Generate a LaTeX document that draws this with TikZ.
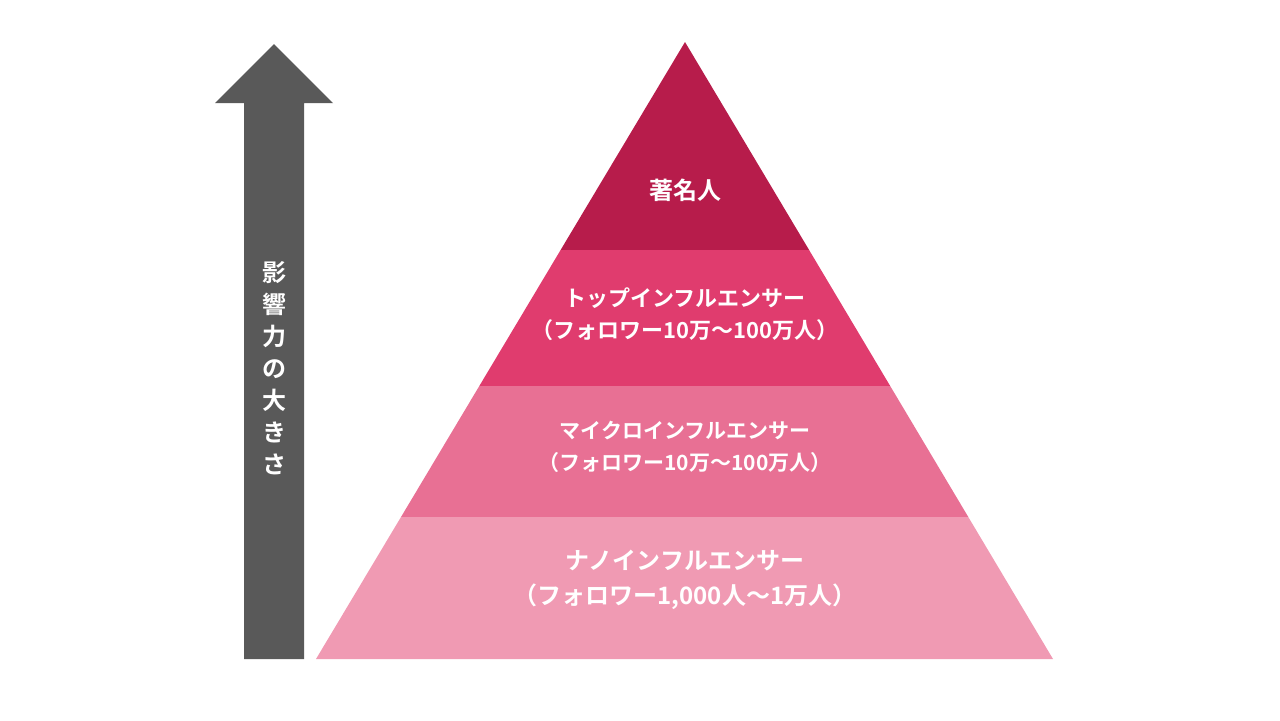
\documentclass[tikz,border=0pt]{standalone}
\usepackage{fontspec}
\newfontfamily\jpfont{Noto Sans CJK JP}[BoldFont={Noto Sans CJK JP Bold}]
\tikzset{lbl/.style = {text=white, font=\jpfont\bfseries, align=center, inner sep=0pt}}
\definecolor{tierA}{HTML}{B71C4B}
\definecolor{tierB}{HTML}{E03C6E}
\definecolor{tierC}{HTML}{E87094}
\definecolor{tierD}{HTML}{F09AB3}
\definecolor{arrowgray}{HTML}{595959}
\begin{document}
\begin{tikzpicture}[x=0.5pt,y=-0.5pt]
            \useasboundingbox (0,0) rectangle (1280,720);
            % Arrow
            \fill[arrowgray] (244,659) -- (244,103) -- (215,103) -- (274,44)
                -- (333,103) -- (304,103) -- (304,659) -- cycle;
            \node[lbl, font=\jpfont\bfseries\fontsize{12}{16}\selectfont, text width=14pt]
                (impact) at (274,368) {影\\響\\力\\の\\大\\き\\さ};

            % Pyramid tiers
            \fill[tierA] (685,42) -- (809.1,250) -- (560.6,250) -- cycle;
            \fill[tierB] (560.6,250) -- (809.1,250) -- (890.2,386) -- (479.3,386) -- cycle;
            \fill[tierC] (479.3,386) -- (890.2,386) -- (968.3,517) -- (401,517) -- cycle;
            \fill[tierD] (401,517) -- (968.3,517) -- (1053,659) -- (316,659) -- cycle;

            % Labels
            \node[lbl, font=\jpfont\bfseries\fontsize{12}{15}\selectfont] (celeb) at (685,190) {著名人};
            \node[lbl, font=\jpfont\bfseries\fontsize{11}{16}\selectfont] (top) at (685,314)
                {トップインフルエンサー\\（フォロワー10万～100万人）};
            \node[lbl, font=\jpfont\bfseries\fontsize{10.5}{16}\selectfont] (micro) at (685,447)
                {マイクロインフルエンサー\\（フォロワー10万～100万人）};
            \node[lbl, font=\jpfont\bfseries\fontsize{12}{17.5}\selectfont] (nano) at (685,580)
                {ナノインフルエンサー\\（フォロワー1,000人～1万人）};
        \end{tikzpicture}
\end{document}
